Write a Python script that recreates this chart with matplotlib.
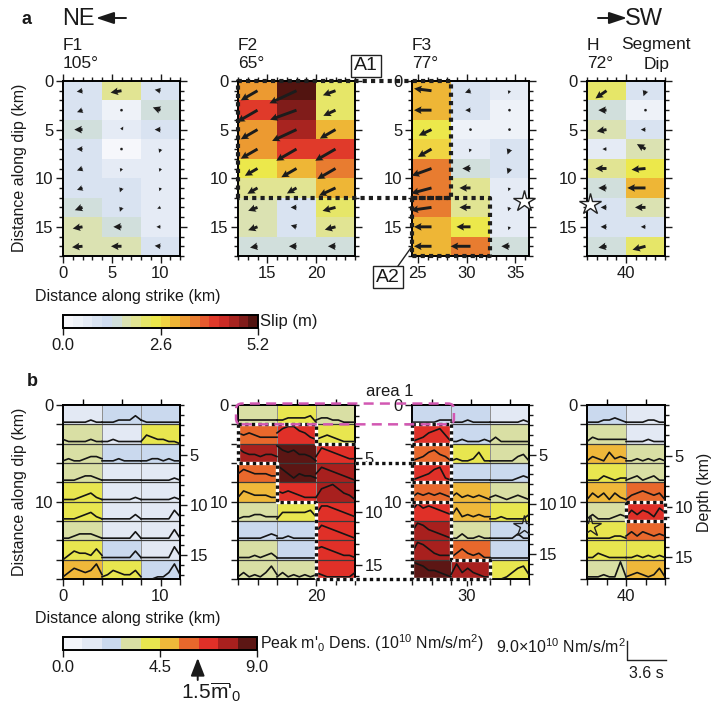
import numpy as np
import matplotlib
matplotlib.use("Agg")
import matplotlib.pyplot as plt
from matplotlib.colors import ListedColormap, BoundaryNorm
from matplotlib.cm import ScalarMappable
from matplotlib.lines import Line2D
from matplotlib.patches import FancyBboxPatch, FancyArrowPatch
from matplotlib.ticker import FixedLocator, MultipleLocator, FuncFormatter, NullFormatter

plt.rcParams.update({
    "font.family": ["Liberation Sans", "DejaVu Sans"],
    "mathtext.fontset": "custom",
    "mathtext.rm": "Liberation Sans",
    "mathtext.it": "Liberation Sans:italic",
    "mathtext.bf": "Liberation Sans:bold",
    "axes.linewidth": 1.4,
})

# ---------------- fault model ----------------
SEGMENTS = ["F1", "F2", "F3", "H"]
DIPS = [105, 65, 77, 72]
STRIKE_START = [0.0, 12.0, 24.4, 36.0]
N_COLS = [3, 3, 3, 2]
SUB_LEN = 4.0      # km along strike
SUB_WID = 2.0      # km along dip
N_ROWS = 9

# final slip (m), rows = along dip, cols = along strike
SLIP_F1 = [[1.0, 1.9, 1.0], [1.0, 0.4, 1.4], [1.4, 0.6, 1.0], [1.0, 0.2, 0.7],
           [1.0, 0.6, 0.6], [1.0, 0.8, 0.6], [1.4, 0.8, 0.6], [1.7, 1.4, 0.7],
           [1.8, 1.8, 1.0]]
SLIP_F2 = [[3.3, 5.1, 2.3], [4.0, 4.8, 2.3], [3.3, 4.6, 3.1], [3.3, 4.0, 4.0],
           [2.5, 3.0, 3.6], [2.0, 1.9, 3.1], [1.7, 1.0, 2.3], [1.7, 1.0, 1.9],
           [1.3, 1.3, 1.3]]
SLIP_F3 = [[3.0, 1.0, 0.6], [3.0, 0.9, 0.3], [2.4, 0.5, 0.5], [2.7, 0.6, 1.0],
           [3.6, 1.4, 1.0], [3.6, 1.9, 0.6], [3.6, 1.9, 0.7], [3.0, 2.4, 0.6],
           [3.0, 3.4, 1.4]]
SLIP_H = [[2.3, 1.0], [1.4, 0.3], [1.7, 0.8], [0.7, 1.7], [1.9, 2.4],
          [1.4, 3.1], [1.0, 1.8], [1.0, 0.8], [1.4, 2.3]]

# slip direction on the fault plane (deg, counter-clockwise from +strike, up-dip positive)
RAKE_F1 = [[190, 190, 170], [200, 60, 160], [180, 60, 180], [180, 180, 250],
           [200, 250, 250], [200, 250, 250], [200, 250, 200], [190, 180, 180],
           [185, 180, 175]]
RAKE_F2 = [[210, 205, 200], [210, 200, 205], [210, 205, 210], [210, 210, 210],
           [210, 210, 210], [210, 210, 205], [200, 180, 195], [200, 165, 195],
           [190, 180, 180]]
RAKE_F3 = [[173, 200, 250], [180, 180, 260], [205, 250, 250], [210, 250, 250],
           [200, 180, 250], [195, 180, 250], [188, 180, 250], [180, 180, 250],
           [180, 180, 180]]
RAKE_H = [[215, 250], [180, 60], [190, 180], [180, 150], [180, 185],
          [180, 180], [180, 180], [180, 180], [190, 195]]

# peak moment-rate density (1e10 Nm/s/m^2)
PEAK_F1 = [[1.4, 2.2, 2.2], [3.2, 1.4, 4.0], [3.2, 2.2, 2.2], [3.2, 1.4, 1.4],
           [4.0, 1.4, 1.4], [4.0, 1.4, 1.4], [3.2, 1.4, 1.4], [4.0, 2.2, 1.4],
           [5.0, 4.0, 2.2]]
PEAK_F2 = [[3.2, 4.0, 3.2], [5.9, 6.8, 4.0], [7.6, 8.5, 6.8], [5.9, 8.5, 7.6],
           [5.0, 6.8, 7.6], [3.2, 4.0, 6.8], [2.2, 2.2, 6.8], [3.2, 2.2, 6.8],
           [3.2, 3.2, 6.8]]
PEAK_F3 = [[2.2, 2.2, 1.4], [6.8, 2.2, 3.2], [5.9, 4.0, 3.2], [6.8, 2.2, 2.2],
           [5.9, 5.0, 3.2], [6.8, 5.0, 4.0], [7.6, 3.2, 2.2], [7.6, 5.9, 2.2],
           [8.5, 7.6, 4.0]]
PEAK_H = [[2.2, 1.4], [3.2, 1.4], [5.0, 3.2], [4.0, 3.2], [5.0, 5.9],
          [3.2, 6.8], [4.0, 5.9], [4.0, 4.0], [3.2, 5.0]]

# moment-rate density functions, 8 samples over 3.6 s per subfault (1e10 Nm/s/m^2)
WAVE_F1 = ["11111211 11122242 21111111", "21111211 11211111 14322110",
           "12112332 11121111 11221211", "11123321 11111111 11111121",
           "11123421 11111121 11111121", "11123421 11111131 11111152",
           "11233321 11111141 11111151", "02433252 11111141 11111162",
           "13543472 12432241 00011372"]
WAVE_F2 = ["22222222 22333341 23322111", "54543333 57886532 23432111",
           "75443443 86564431 37654322", "46544433 86424332 47654321",
           "25433322 54543222 26786431", "12233222 14444452 37765432",
           "11111232 11211111 47654321", "11121231 11111111 56543221",
           "13121362 13121212 32111113"]
WAVE_F3 = ["11111222 11121111 11111121", "12356741 11211121 13111111",
           "12356431 12112511 11111341", "12346721 11111111 11111232",
           "24343432 24232321 23212321", "58676543 26232322 11211113",
           "48754321 11311211 11111311", "38753222 13532311 11111111",
           "87644321 27353211 00013562"]
WAVE_H = ["11122321 11112211", "13222222 11112111", "13215232 11212121",
          "11132122 12312311", "14241421 13454341", "13111232 25354264",
          "11111221 24243232", "11321111 11212121", "11121181 12321251"]

SLIP = [SLIP_F1, SLIP_F2, SLIP_F3, SLIP_H]
RAKE = [RAKE_F1, RAKE_F2, RAKE_F3, RAKE_H]
PEAK = [PEAK_F1, PEAK_F2, PEAK_F3, PEAK_H]
WAVE = [WAVE_F1, WAVE_F2, WAVE_F3, WAVE_H]

XTICKS_A = [[0, 5, 10], [15, 20], [25, 30, 35], [40]]
XTICKS_B = [[0, 10], [20], [30], [40]]

SLIP_MAX = 5.2
PEAK_MAX = 9.0
PEAK_MARK = 6.25          # 1.5 x mean peak density
ARROW_KM_PER_M = 0.6

SLIP_COLORS = ["#f6f7fb", "#eef2f8", "#e5ebf5", "#d9e3f1", "#cfdcef", "#d1dfdc",
               "#dbe2b2", "#e1e493", "#e6e668", "#ece84b", "#f0d442", "#eeb636",
               "#ec9a31", "#e87c30", "#e65a2e", "#e03a2a", "#cc2c26", "#a82420",
               "#801c1a", "#521410"]
PEAK_COLORS = ["#f3f5fa", "#e3e9f4", "#cad9ee", "#d9dfa4", "#e8e64f", "#efb83a",
               "#e8682c", "#e03028", "#a8201e", "#5c1614"]

slip_cmap = ListedColormap(SLIP_COLORS)
slip_norm = BoundaryNorm(np.linspace(0, SLIP_MAX, len(SLIP_COLORS) + 1), len(SLIP_COLORS))
peak_cmap = ListedColormap(PEAK_COLORS)
peak_norm = BoundaryNorm(np.linspace(0, PEAK_MAX, len(PEAK_COLORS) + 1), len(PEAK_COLORS))

# ---------------- layout (pixels) ----------------
W, H = 718, 704
fig = plt.figure(figsize=(W / 100, H / 100), dpi=100)

AX_X = [(63, 180), (238, 355), (412, 529), (587, 665)]
A_Y = (81, 256)
B_Y = (405, 579)
TXT = "#1a1a1a"


def rect(x0, y0, x1, y1):
    return [x0 / W, 1 - y1 / H, (x1 - x0) / W, (y1 - y0) / H]


def fx(x):
    return x / W


def fy(y):
    return 1 - y / H


def edges(k):
    x0 = STRIKE_START[k]
    xe = x0 + SUB_LEN * np.arange(N_COLS[k] + 1)
    ye = SUB_WID * np.arange(N_ROWS + 1)
    return xe, ye


axes_a, axes_b = [], []

# ---------------- panel a: slip ----------------
for k in range(4):
    ax = fig.add_axes(rect(AX_X[k][0], A_Y[0], AX_X[k][1], A_Y[1]))
    xe, ye = edges(k)
    s = np.array(SLIP[k], float)
    ax.pcolormesh(xe, ye, s, cmap=slip_cmap, norm=slip_norm, shading="flat",
                  edgecolors="none", antialiased=False)
    xc = 0.5 * (xe[:-1] + xe[1:])
    yc = 0.5 * (ye[:-1] + ye[1:])
    X, Y = np.meshgrid(xc, yc)
    ang = np.deg2rad(np.array(RAKE[k], float))
    L = ARROW_KM_PER_M * s
    ax.quiver(X, Y, L * np.cos(ang), -L * np.sin(ang), angles="xy", scale_units="xy",
              scale=1, units="xy", width=0.3, headwidth=2.6, headlength=2.6,
              headaxislength=2.3, pivot="tail", color="#1c1c1c", zorder=3)
    ax.set_xlim(xe[0], xe[-1])
    ax.set_ylim(N_ROWS * SUB_WID, 0)
    ax.xaxis.set_major_locator(FixedLocator(XTICKS_A[k]))
    ax.xaxis.set_minor_locator(MultipleLocator(1))
    ax.yaxis.set_major_locator(MultipleLocator(5))
    ax.yaxis.set_minor_locator(MultipleLocator(1))
    ax.tick_params(which="both", direction="out", top=True, right=True,
                   labelsize=12, width=1.0, colors=TXT, pad=2)
    ax.tick_params(which="major", length=5)
    ax.tick_params(which="minor", length=3)
    axes_a.append(ax)

# ---------------- panel b: moment-rate density ----------------
for k in range(4):
    ax = fig.add_axes(rect(AX_X[k][0], B_Y[0], AX_X[k][1], B_Y[1]))
    xe, ye = edges(k)
    ax.pcolormesh(xe, ye, np.array(PEAK[k], float), cmap=peak_cmap, norm=peak_norm,
                  shading="flat", edgecolors="none", antialiased=False)
    for xv in xe[1:-1]:
        ax.axvline(xv, color="#8e8e8e", lw=0.7, zorder=2)
    for yv in ye[1:-1]:
        ax.axhline(yv, color="#3a3a3a", lw=0.9, zorder=2)
    for r, row in enumerate(WAVE[k]):
        for c, cell in enumerate(row.split()):
            amp = np.array([int(ch) for ch in cell], float)
            t = np.linspace(xe[c], xe[c + 1], len(amp))
            ax.plot(t, ye[r + 1] - amp / PEAK_MAX * SUB_WID, color="#151515",
                    lw=1.2, zorder=3, solid_joinstyle="round")
    ax.set_xlim(xe[0], xe[-1])
    ax.set_ylim(N_ROWS * SUB_WID, 0)
    ax.xaxis.set_major_locator(FixedLocator(XTICKS_B[k]))
    ax.xaxis.set_minor_locator(FixedLocator(np.arange(xe[0], xe[-1] + 0.01, 2.0)))
    ax.yaxis.set_major_locator(FixedLocator(ye))
    ax.yaxis.set_major_formatter(FuncFormatter(lambda v, p: f"{v:g}" if v in (0, 10) else ""))
    ax.tick_params(which="both", direction="out", top=False, right=False,
                   labelsize=12, width=1.0, colors=TXT, pad=2)
    ax.tick_params(which="major", length=5)
    ax.tick_params(axis="x", which="minor", length=4)
    sec_x = ax.secondary_xaxis("top")
    sec_x.xaxis.set_major_locator(FixedLocator(0.5 * (xe[:-1] + xe[1:])))
    sec_x.xaxis.set_major_formatter(NullFormatter())
    sec_x.tick_params(direction="out", length=4, width=1.0)
    s = np.sin(np.deg2rad(DIPS[k]))
    sec = ax.secondary_yaxis("right", functions=(lambda y, s=s: y * s, lambda d, s=s: d / s))
    sec.yaxis.set_major_locator(FixedLocator([5, 10, 15]))
    sec.yaxis.set_minor_locator(MultipleLocator(1))
    sec.tick_params(which="both", direction="out", width=1.0, labelsize=12, colors=TXT, pad=2)
    sec.tick_params(which="major", length=5)
    sec.tick_params(which="minor", length=3)
    axes_b.append(ax)

# hypocentre stars
axes_a[2].plot([35.9], [12.3], marker="*", ms=16, mfc="white", mec="#222", mew=1.0,
               clip_on=False, zorder=5)
axes_a[3].plot([36.3], [12.6], marker="*", ms=16, mfc="white", mec="#222", mew=1.0,
               clip_on=False, zorder=5)
axes_b[2].plot([35.9], [12.5], marker="*", ms=16, mfc="none", mec="#222", mew=1.0, zorder=5)
axes_b[3].plot([36.3], [12.5], marker="*", ms=16, mfc="none", mec="#222", mew=1.0, zorder=5)


# ---------------- cross-panel outlines ----------------
def to_fig(ax, pts):
    disp = ax.transData.transform(np.asarray(pts, float))
    return fig.transFigure.inverted().transform(disp)


def fig_line(xy, **kw):
    xy = np.asarray(xy)
    fig.add_artist(Line2D(xy[:, 0], xy[:, 1], transform=fig.transFigure, **kw))


DOT_A = dict(color="#1e1e1e", lw=3.0, linestyle=(0, (1, 1)), zorder=6)
aF2, aF3 = axes_a[1], axes_a[2]
a1 = np.vstack([to_fig(aF2, [(12, 12), (12, 0)]), to_fig(aF3, [(28.4, 0), (28.4, 12)]),
                to_fig(aF2, [(12, 12)])])
fig_line(a1, **DOT_A)
a2 = to_fig(aF3, [(24.4, 12), (24.4, 18), (32.4, 18), (32.4, 12), (24.4, 12)])
fig_line(a2, **DOT_A)

fig.text(fx(366), fy(66), "A1", fontsize=14, ha="center", va="center", color=TXT,
         bbox=dict(boxstyle="square,pad=0.15", fc="white", ec="#222", lw=1.0), zorder=7)
fig.text(fx(388), fy(277), "A2", fontsize=14, ha="center", va="center", color=TXT,
         bbox=dict(boxstyle="square,pad=0.15", fc="white", ec="#222", lw=1.0), zorder=7)
lead = np.vstack([[fx(398), fy(266)], to_fig(aF3, [(24.4, 17.0)])])
fig_line(lead, color="#222", lw=1.0, zorder=7)


def dotted_bw(xy):
    fig_line(xy, color="white", lw=2.4, zorder=6, solid_capstyle="butt")
    fig_line(xy, color="#111", lw=2.4, linestyle=(0, (1, 1)), zorder=7)


bF2, bF3, bH = axes_b[1], axes_b[2], axes_b[3]
dotted_bw(to_fig(bF2, [(12, 2), (20, 2), (20, 4), (24, 4)]))
dotted_bw(to_fig(bF2, [(12, 2), (12, 6), (16, 6), (16, 10), (20, 10), (20, 18)]))
dotted_bw(np.vstack([to_fig(bF2, [(20, 18)]), to_fig(bF3, [(32.4, 18)])]))
dotted_bw(np.vstack([to_fig(bF2, [(24, 6)]), to_fig(bF3, [(24.4, 6)])]))
dotted_bw(to_fig(bF3, [(24.4, 2), (24.4, 18)]))
for yv in (2, 4, 6, 8, 10):
    dotted_bw(to_fig(bF3, [(24.4, yv), (28.4, yv)]))
dotted_bw(to_fig(bF3, [(28.4, 2), (28.4, 16), (32.4, 16), (32.4, 18)]))
dotted_bw(to_fig(bH, [(40, 10), (44, 10), (44, 12), (40, 12), (40, 10)]))

# area 1 (top row of F2 and F3)
p0 = to_fig(bF2, [(11.8, -0.15)])[0]
p1 = to_fig(bF3, [(28.7, 2.0)])[0]
area = FancyBboxPatch((p0[0], p1[1]), p1[0] - p0[0], p0[1] - p1[1],
                      boxstyle="round,pad=0,rounding_size=0.008", mutation_aspect=W / H,
                      transform=fig.transFigure, fill=False, ec="#d258b2", lw=1.8,
                      linestyle=(0, (4, 2.5)), zorder=8)
fig.add_artist(area)
fig.text(fx(366), fy(392), "area 1", fontsize=12, ha="left", va="center", color=TXT)

# ---------------- titles and labels ----------------
for k in range(4):
    fig.text(fx(AX_X[k][0]), fy(45), SEGMENTS[k], fontsize=12.5, ha="left", va="center", color=TXT)
    fig.text(fx(AX_X[k][0]), fy(64), f"{DIPS[k]}°", fontsize=12.5, ha="left", va="center", color=TXT)
fig.text(fx(656), fy(45), "Segment", fontsize=12.5, ha="center", va="center", color=TXT)
fig.text(fx(657), fy(64), "Dip", fontsize=12.5, ha="center", va="center", color=TXT)

fig.text(fx(27), fy(20), "a", fontsize=13, fontweight="bold", ha="center", va="center", color=TXT)
fig.text(fx(32), fy(382), "b", fontsize=13, fontweight="bold", ha="center", va="center", color=TXT)
fig.text(fx(62), fy(19), "NE", fontsize=17, ha="left", va="center", color=TXT)
fig.text(fx(663), fy(19), "SW", fontsize=17, ha="right", va="center", color=TXT)
arrow_kw = dict(arrowstyle="-|>,head_length=0.9,head_width=0.3", mutation_scale=12,
                lw=1.4, color="#1a1a1a", shrinkA=0, shrinkB=0)
fig.add_artist(FancyArrowPatch((fx(126), fy(18)), (fx(96), fy(18)),
                               transform=fig.transFigure, **arrow_kw))
fig.add_artist(FancyArrowPatch((fx(598), fy(18)), (fx(627), fy(18)),
                               transform=fig.transFigure, **arrow_kw))

for yc in (168, 492):
    fig.text(fx(20), fy(yc), "Distance along dip (km)", fontsize=11.5, rotation=90,
             ha="center", va="center", color=TXT)
fig.text(fx(35), fy(297), "Distance along strike (km)", fontsize=11.5, ha="left", va="center", color=TXT)
fig.text(fx(35), fy(618), "Distance along strike (km)", fontsize=11.5, ha="left", va="center", color=TXT)
fig.text(fx(704), fy(492), "Depth (km)", fontsize=11.5, rotation=90, ha="center", va="center", color=TXT)

# ---------------- colour bars ----------------
cax_a = fig.add_axes(rect(63, 315, 258, 328))
cb_a = fig.colorbar(ScalarMappable(norm=slip_norm, cmap=slip_cmap), cax=cax_a,
                    orientation="horizontal", ticks=[0, SLIP_MAX / 2, SLIP_MAX])
cb_a.ax.set_xticklabels(["0.0", "2.6", "5.2"])
cb_a.outline.set_linewidth(1.4)
cax_a.tick_params(direction="out", length=5, width=1.0, labelsize=12, colors=TXT, pad=2)
cax_a.minorticks_off()
fig.text(fx(260), fy(321), "Slip (m)", fontsize=12, ha="left", va="center", color=TXT)

cax_b = fig.add_axes(rect(63, 637, 257, 650))
cb_b = fig.colorbar(ScalarMappable(norm=peak_norm, cmap=peak_cmap), cax=cax_b,
                    orientation="horizontal", ticks=[0, PEAK_MAX / 2, PEAK_MAX])
cb_b.ax.set_xticklabels(["0.0", "4.5", "9.0"])
cb_b.outline.set_linewidth(1.4)
cax_b.tick_params(direction="out", length=5, width=1.0, labelsize=12, colors=TXT, pad=2)
cax_b.minorticks_off()
fig.text(fx(260), fy(643), "Peak m'$_0$ Dens. (10$^{10}$ Nm/s/m$^2$)", fontsize=11.5,
         ha="left", va="center", color=TXT)

# 1.5 x mean marker under the peak-density bar
cb_pos = cax_b.get_position()
mark_x = cb_pos.x0 + cb_pos.width * PEAK_MARK / PEAK_MAX
fig.add_artist(FancyArrowPatch(
    (mark_x, fy(680)), (mark_x, fy(658)), transform=fig.transFigure,
    arrowstyle="-|>,head_length=0.9,head_width=0.35", mutation_scale=12, lw=1.4,
    color="#1a1a1a", shrinkA=0, shrinkB=0))
fig.text(mark_x + fx(13), fy(692), r"1.5$\overline{\mathrm{m}}$'$_0$", fontsize=15,
         ha="center", va="center", color=TXT)

# waveform scale bar: one subfault height = PEAK_MAX, one subfault width = 3.6 s
bx, by = 627, 660
row_px = (B_Y[1] - B_Y[0]) / N_ROWS
col_px = (AX_X[0][1] - AX_X[0][0]) / N_COLS[0]
fig_line([[fx(bx), fy(by - row_px)], [fx(bx), fy(by)], [fx(bx + col_px), fy(by)]],
         color="#222", lw=1.0)
fig.text(fx(bx - 1), fy(647), "9.0×10$^{10}$ Nm/s/m$^2$", fontsize=11.5, ha="right",
         va="center", color=TXT)
fig.text(fx(bx + col_px / 2), fy(673), "3.6 s", fontsize=11.5, ha="center", va="center", color=TXT)

fig.savefig("out.png", dpi=100, facecolor="white")
